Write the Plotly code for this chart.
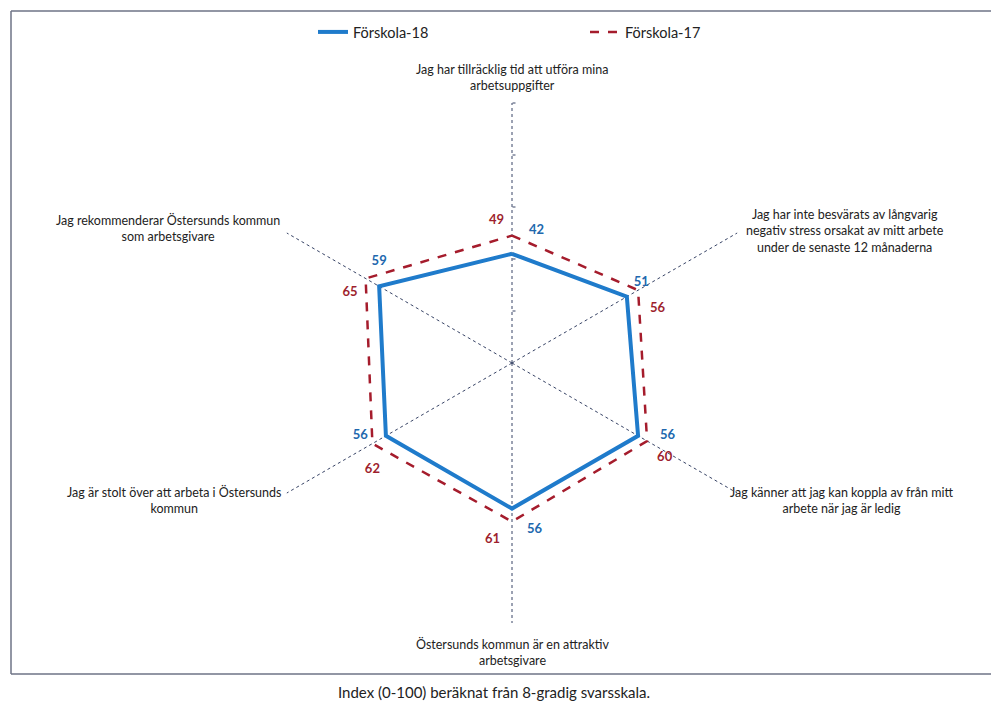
import plotly.graph_objects as go

categories = [
    "Jag har tillräcklig tid att utföra mina<br>arbetsuppgifter",
    "Jag har inte besvärats av långvarig<br>negativ stress orsakat av mitt arbete<br>under de senaste 12 månaderna",
    "Jag känner att jag kan koppla av från mitt<br>arbete när jag är ledig",
    "Östersunds kommun är en attraktiv<br>arbetsgivare",
    "Jag är stolt över att arbeta i Östersunds<br>kommun",
    "Jag rekommenderar Östersunds kommun<br>som arbetsgivare",
]
forskola_18 = [42, 51, 56, 56, 56, 59]
forskola_17 = [49, 56, 60, 61, 62, 65]
caption = "Index (0-100) beräknat från 8-gradig svarsskala."

# label placement styles (text position + invisible marker size controls the gap)
pos_18 = ["top right", "top right", "middle right", "bottom right", "middle left", "top center"]
gap_18 = [25.6, 9.6, 33.6, 22.4, 27.2, 27.2]
pos_17 = ["top left", "bottom right", "bottom right", "bottom left", "bottom center", "bottom left"]
gap_17 = [11.2, 17.6, 14.4, 17.6, 30.4, 11.2]

BLUE = "#1F7BCB"
RED = "#A51C2C"
BLUE_T = "#2168AE"
RED_T = "#9E1F2E"
FONT = "Lato"

def closed(v):
    return list(v) + [v[0]]

fig = go.Figure()
fig.add_trace(go.Scatterpolar(
    r=closed(forskola_18), theta=closed(categories), mode="lines+markers+text",
    name="Förskola-18", line=dict(color=BLUE, width=4),
    marker=dict(size=closed(gap_18), color="rgba(0,0,0,0)", line=dict(width=0, color="rgba(0,0,0,0)")),
    text=[str(v) for v in forskola_18] + [""], textposition=closed(pos_18),
    textfont=dict(color=BLUE_T, size=13, family=FONT, weight="bold"),
))
fig.add_trace(go.Scatterpolar(
    r=closed(forskola_17), theta=closed(categories), mode="lines+markers+text",
    name="Förskola-17", line=dict(color=RED, width=2.5, dash="dash"),
    marker=dict(size=closed(gap_17), color="rgba(0,0,0,0)", line=dict(width=0, color="rgba(0,0,0,0)")),
    text=[str(v) for v in forskola_17] + [""], textposition=closed(pos_17),
    textfont=dict(color=RED_T, size=13, family=FONT, weight="bold"),
))

fig.update_layout(
    width=991, height=709,
    margin=dict(l=0, r=0, t=0, b=0),
    paper_bgcolor="white",
    font=dict(family=FONT, color="#222222", size=12),
    polar=dict(
        domain=dict(x=[252 / 991, 772 / 991], y=[86 / 709, 606 / 709]),
        bgcolor="white",
        angularaxis=dict(
            direction="clockwise", rotation=90, showline=False,
            showticklabels=False, ticks="",
            showgrid=True, gridcolor="#384466", gridwidth=1.3, griddash="dot",
        ),
        radialaxis=dict(
            range=[0, 100], angle=90, showgrid=False, showline=False,
            showticklabels=False, ticks="outside", ticklen=3, tickcolor="#384466",
            tickvals=[20, 40, 60, 80, 100],
        ),
    ),
    legend=dict(
        orientation="h", x=313 / 991, xanchor="left", y=(709 - 32) / 709, yanchor="middle",
        font=dict(size=14.5, color="#222222", family=FONT), entrywidth=227,
        bgcolor="rgba(0,0,0,0)",
    ),
    showlegend=True,
)

label_pos = [(512, 77), (845, 231), (841, 500), (512, 652), (174, 500), (168, 228)]
for txt, (px, py) in zip(categories, label_pos):
    fig.add_annotation(
        x=px / 991, y=1 - py / 709, xref="paper", yref="paper",
        text=txt, showarrow=False, xanchor="center", yanchor="middle",
        font=dict(size=12.5, color="#222222", family=FONT), align="center",
    )

fig.add_annotation(
    x=494 / 991, y=1 - 692 / 709, xref="paper", yref="paper", text=caption,
    showarrow=False, xanchor="center", yanchor="middle",
    font=dict(size=15, color="#222222", family=FONT),
)

frame = dict(type="line", xref="paper", yref="paper", line=dict(color="#6E7386", width=1.5))
fig.add_shape(**frame, x0=11 / 991, x1=1.01, y0=1 - 11 / 709, y1=1 - 11 / 709)
fig.add_shape(**frame, x0=11 / 991, x1=11 / 991, y0=1 - 11 / 709, y1=1 - 674 / 709)
fig.add_shape(**frame, x0=11 / 991, x1=1.01, y0=1 - 674 / 709, y1=1 - 674 / 709)

fig.write_html("out.html")
